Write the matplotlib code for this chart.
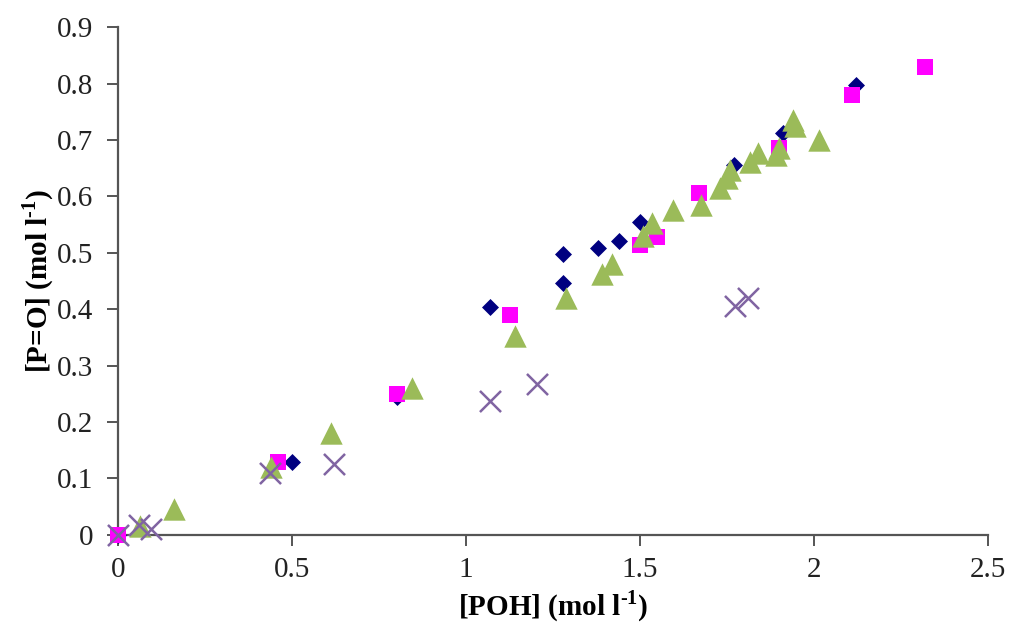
import matplotlib
matplotlib.use("Agg")
import matplotlib.pyplot as plt

plt.rcParams['font.family'] = ['Liberation Serif', 'DejaVu Serif']
plt.rcParams['mathtext.fontset'] = 'custom'
plt.rcParams['mathtext.rm'] = 'Liberation Serif'
plt.rcParams['mathtext.bf'] = 'Liberation Serif:bold'

# Series 1 (navy diamonds)
s1_x = [0.0, 0.50, 0.80, 1.07, 1.28, 1.28, 1.38, 1.44, 1.50, 1.77, 1.91, 2.12]
s1_y = [0.0, 0.13, 0.244, 0.403, 0.497, 0.447, 0.508, 0.520, 0.555, 0.655, 0.713, 0.798]

# Series 2 (magenta squares)
s2_x = [0.0, 0.46, 0.80, 1.126, 1.50, 1.55, 1.67, 1.90, 2.11, 2.32]
s2_y = [0.0, 0.13, 0.25, 0.39, 0.513, 0.528, 0.606, 0.686, 0.78, 0.83]

# Series 3 (green triangles)
s3_x = [0.063, 0.16, 0.44, 0.61, 0.845, 1.14, 1.287, 1.39, 1.42, 1.51, 1.535,
        1.595, 1.675, 1.73, 1.75, 1.76, 1.816, 1.84, 1.89, 1.90, 1.94, 1.945, 2.015]
s3_y = [0.015, 0.045, 0.12, 0.18, 0.26, 0.353, 0.419, 0.463, 0.48, 0.529, 0.553,
        0.576, 0.585, 0.615, 0.633, 0.647, 0.66, 0.677, 0.674, 0.686, 0.736, 0.725, 0.70]

# Series 4 (purple crosses)
s4_x = [0.0, 0.058, 0.095, 0.437, 0.62, 1.07, 1.205, 1.773, 1.81]
s4_y = [0.0, 0.018, 0.01, 0.11, 0.125, 0.237, 0.267, 0.405, 0.419]

x_ticks = [0, 0.5, 1, 1.5, 2, 2.5]
x_tick_labels = ['0', '0.5', '1', '1.5', '2', '2.5']
y_ticks = [0, 0.1, 0.2, 0.3, 0.4, 0.5, 0.6, 0.7, 0.8, 0.9]
y_tick_labels = ['0', '0.1', '0.2', '0.3', '0.4', '0.5', '0.6', '0.7', '0.8', '0.9']

fig = plt.figure(figsize=(10.12, 6.3), dpi=100)
ax = fig.add_axes([0.117, 0.151, 0.859, 0.806])

ax.scatter(s1_x, s1_y, marker='D', s=75, color='#000080', zorder=3, clip_on=False, linewidths=0)
ax.scatter(s2_x, s2_y, marker='s', s=120, color='#FF00FF', zorder=4, clip_on=False, linewidths=0)
ax.scatter(s3_x, s3_y, marker='^', s=260, color='#9BBB59', zorder=5, clip_on=False, linewidths=0)
ax.scatter(s4_x, s4_y, marker='x', s=230, color='#8064A2', zorder=6, clip_on=False, linewidths=1.8)

ax.set_xlim(0, 2.5)
ax.set_ylim(0, 0.9)
ax.set_xticks(x_ticks)
ax.set_xticklabels(x_tick_labels)
ax.set_yticks(y_ticks)
ax.set_yticklabels(y_tick_labels)

for side in ['top', 'right']:
    ax.spines[side].set_visible(False)
for side in ['left', 'bottom']:
    ax.spines[side].set_color('#555555')
    ax.spines[side].set_linewidth(1.6)

ax.tick_params(axis='both', direction='out', length=8, width=1.4, color='#555555',
               labelsize=21, labelcolor='#222222')
ax.tick_params(axis='y', pad=10)
ax.tick_params(axis='x', pad=8)

ax.set_xlabel('[POH] (mol l$^{\\mathbf{\u20101}}$)', fontsize=21, fontweight='bold', labelpad=4)
ax.set_ylabel('[P=O] (mol l$^{\\mathbf{\u20101}}$)', fontsize=21, fontweight='bold')
ax.yaxis.set_label_coords(-0.072, 0.5)

fig.savefig('out.png', dpi=100)
